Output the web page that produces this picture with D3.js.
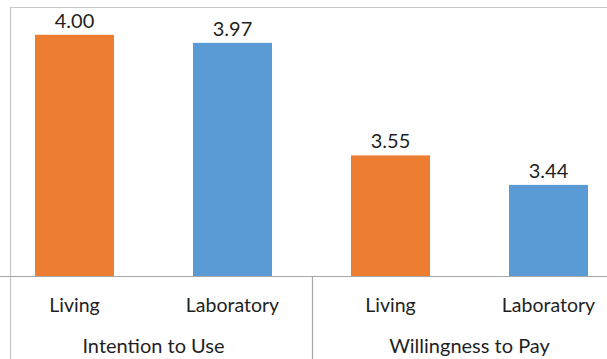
<!DOCTYPE html>
<html><head><meta charset="utf-8">
<script src="https://cdn.jsdelivr.net/npm/d3@7"></script>
<style>html,body{margin:0;padding:0;background:#fff;overflow:hidden}</style>
</head><body>
<svg id="c" width="607" height="359"></svg>
<script>
const groups = ["Intention to Use", "Willingness to Pay"];
const types = ["Living", "Laboratory"];
const values = [4.00, 3.97, 3.55, 3.44];
const valueLabels = ["4.00", "3.97", "3.55", "3.44"];
const typeColors = ["#ED7D31", "#5B9BD5"];
const yDomain = [3.1, 4.1];

(function () {
const rows = [];
groups.forEach((g, gi) => types.forEach((t, ti) => {
  const i = gi * types.length + ti;
  rows.push({key: i, group: g, type: t, ti, value: values[i], label: valueLabels[i]});
}));

const svg = d3.select("#c");
const W = 607, H = 359;
const pLeft = -4.5, pRight = 627.5, pTop = 8, base = 276;
const font = "Lato, 'Open Sans', sans-serif";

const x = d3.scaleBand().domain(rows.map(d => d.key)).range([pLeft, pRight])
  .paddingInner(0.5).paddingOuter(0.25);
const xg = d3.scaleBand().domain(groups).range([pLeft, pRight]);
const y = d3.scaleLinear().domain(yDomain).range([base, pTop]);

// chart frame
svg.append("path").attr("d", `M10.5,${H+5} V7.5 H${W+5}`)
  .attr("fill", "none").attr("stroke", "#c8c8c8").attr("stroke-width", 1.2);

// bars
svg.selectAll("rect.bar").data(rows).join("rect").attr("class", "bar")
  .attr("x", d => x(d.key)).attr("width", x.bandwidth())
  .attr("y", d => y(d.value)).attr("height", d => base - y(d.value))
  .attr("fill", d => typeColors[d.ti]);

// value labels
svg.selectAll("text.val").data(rows).join("text").attr("class", "val")
  .attr("x", d => x(d.key) + x.bandwidth() / 2).attr("y", d => y(d.value) - 7)
  .attr("text-anchor", "middle").attr("font-family", font).attr("font-size", 20)
  .attr("fill", "#1f1f1f").text(d => d.label);

// baseline axis
svg.append("line").attr("x1", pLeft).attr("x2", pRight).attr("y1", base + 0.5).attr("y2", base + 0.5)
  .attr("stroke", "#a6a6a6").attr("stroke-width", 1.2);

// group separators
const seps = [pLeft, ...groups.map(g => xg(g) + xg.bandwidth())];
svg.selectAll("line.sep").data(seps).join("line").attr("class", "sep")
  .attr("x1", d => Math.round(d) + 0.5).attr("x2", d => Math.round(d) + 0.5)
  .attr("y1", base).attr("y2", H + 5)
  .attr("stroke", "#a6a6a6").attr("stroke-width", 1.2);

// category labels
svg.selectAll("text.cat").data(rows).join("text").attr("class", "cat")
  .attr("x", d => x(d.key) + x.bandwidth() / 2).attr("y", 312)
  .attr("text-anchor", "middle").attr("font-family", font).attr("font-size", 19.5)
  .attr("fill", "#1f1f1f").text(d => d.type);

// group labels
svg.selectAll("text.grp").data(groups).join("text").attr("class", "grp")
  .attr("x", d => xg(d) + xg.bandwidth() / 2).attr("y", 353)
  .attr("text-anchor", "middle").attr("font-family", font).attr("font-size", 20)
  .attr("fill", "#1f1f1f").text(d => d);
})();
</script>
</body></html>
